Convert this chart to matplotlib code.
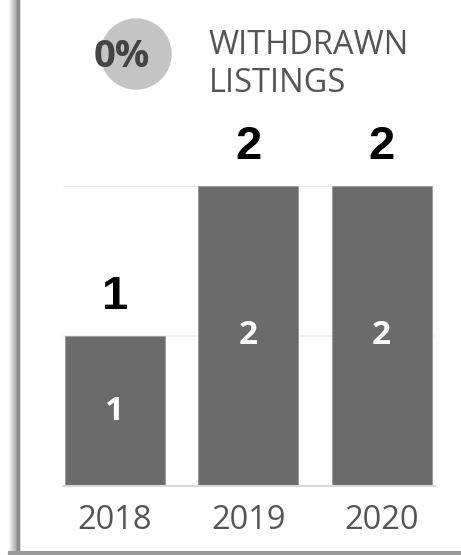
import numpy as np
import matplotlib.pyplot as plt
from matplotlib.patches import Circle

# données du graphique
annees = ["2018", "2019", "2020"]
valeurs = [1, 2, 2]
pourcentage = "0%"
titre = "WITHDRAWN\nLISTINGS"

W, H = 461, 555
fig = plt.figure(figsize=(W / 100, H / 100), dpi=100)

# calque de décor en pixels
deco = fig.add_axes([0, 0, 1, 1])
deco.set_xlim(0, W)
deco.set_ylim(H, 0)
deco.axis("off")

# ombre à gauche et trait du bas
for i, a in enumerate(np.linspace(0.05, 0.55, 10)):
    deco.plot([9 + i, 9 + i], [0, 553], color="black", alpha=a * 0.6, lw=1)
deco.plot([18, 18], [0, 553], color="#8a8a8a", lw=2.5)
deco.plot([10, W], [552.5, 552.5], color="#9a9a9a", lw=3)

deco.add_patch(Circle((136, 54), 35, color="#c4c4c4", zorder=1))
deco.text(122, 57, pourcentage, ha="center", va="center", fontsize=27.5,
          fontweight="bold", color="#444444", family="Open Sans", zorder=2)
deco.text(209, 64, titre, ha="left", va="center", fontsize=23.5,
          color="#555555", family="Open Sans", linespacing=1.2)

# graphique en barres
ax = fig.add_axes([63 / W, (H - 486) / H, 372 / W, 300 / H])
x = np.arange(len(annees))
ax.bar(x, valeurs, width=0.75, color="#6b6b6b", edgecolor="#9a9a9a",
       linewidth=0.6, zorder=2)
ax.set_xlim(-0.39, 2.4)
ax.set_ylim(0, 2)
ax.set_yticks([1, 2])
ax.grid(axis="y", color="#eeeeee", lw=1.2, zorder=0)
ax.tick_params(axis="y", left=False, labelleft=False)
ax.set_xticks(x)
ax.set_xticklabels(annees, fontsize=23.5, color="#555555", family="Open Sans")
ax.tick_params(axis="x", length=0, pad=13)
for s in ["left", "right", "top"]:
    ax.spines[s].set_visible(False)
ax.spines["bottom"].set_color("#d9d9d9")
ax.spines["bottom"].set_linewidth(1.5)

for xi, v in zip(x, valeurs):
    ax.text(xi, v + 0.11, str(v), ha="center", va="bottom", fontsize=34,
            fontweight="bold", color="black", family="Liberation Sans",
            clip_on=False)
    ax.text(xi, v / 2, str(v), ha="center", va="center", fontsize=24,
            fontweight="bold", color="white", family="Open Sans")

fig.savefig("out.png", dpi=100)
